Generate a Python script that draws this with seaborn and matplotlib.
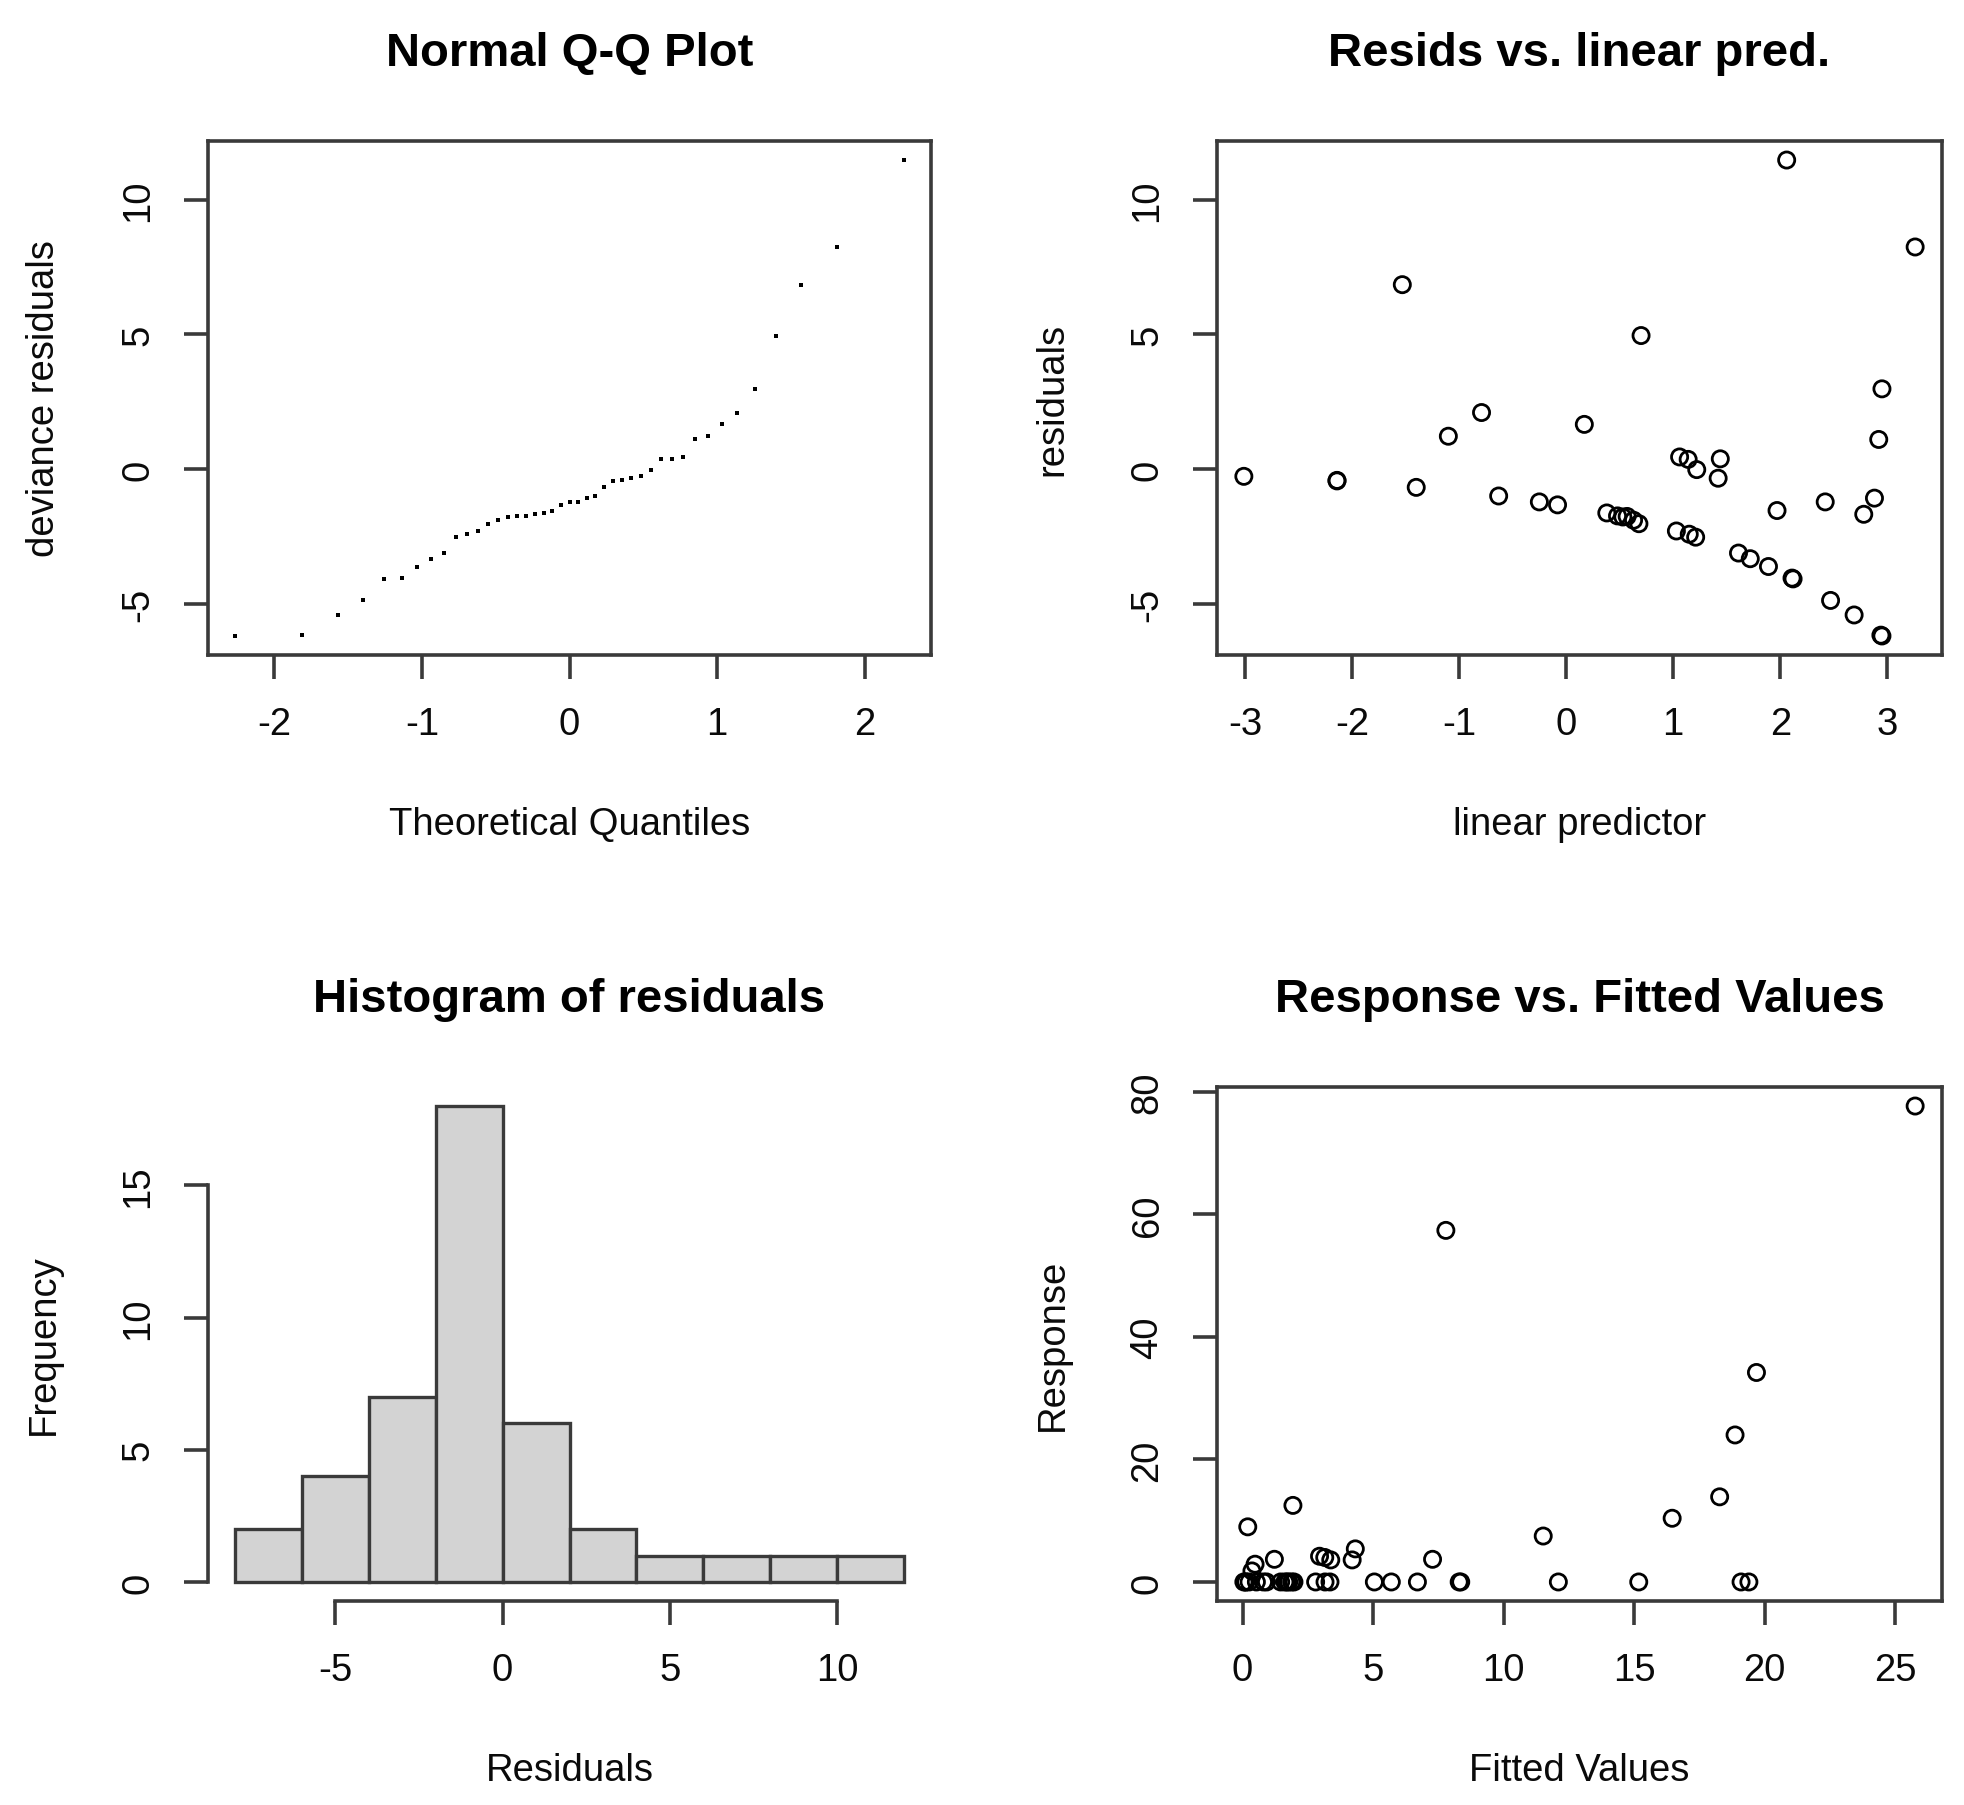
import numpy as np
import pandas as pd
import matplotlib
matplotlib.use("Agg")
import matplotlib.pyplot as plt
import seaborn as sns

# ---------------- data ----------------
lin_pred = [-3.01, -2.14, -2.14, -1.53, -1.40, -1.10, -0.79, -0.63, -0.25, -0.08,
            0.17, 0.38, 0.48, 0.53, 0.57, 0.63, 0.68, 0.70, 1.03, 1.06,
            1.14, 1.15, 1.21, 1.22, 1.42, 1.44, 1.61, 1.72, 1.89, 1.97,
            2.06, 2.11, 2.12, 2.42, 2.47, 2.69, 2.78, 2.88, 2.92, 2.94,
            2.95, 2.95, 3.26]
residuals = [-0.27, -0.42, -0.44, 6.85, -0.68, 1.22, 2.10, -1.00, -1.22, -1.33,
             1.66, -1.63, -1.74, -1.78, -1.76, -1.90, -2.03, 4.96, -2.30, 0.45,
             0.36, -2.42, -2.53, -0.02, -0.34, 0.38, -3.12, -3.33, -3.62, -1.54,
             11.48, -4.05, -4.08, -1.22, -4.88, -5.42, -1.68, -1.08, 1.10, -6.17,
             -6.20, 2.98, 8.25]
fitted = [0.05, 0.12, 0.12, 0.20, 0.25, 0.36, 0.48, 0.53, 0.80, 0.92,
          1.22, 1.46, 1.62, 1.70, 1.77, 1.88, 1.97, 1.93, 2.80, 2.95,
          3.15, 3.16, 3.35, 3.38, 4.20, 4.32, 5.05, 5.70, 6.70, 7.28,
          7.79, 8.30, 8.36, 11.52, 12.10, 15.18, 16.46, 18.28, 18.87, 19.10,
          19.40, 19.69, 25.77]
response = [0, 0, 0, 9.0, 0, 1.8, 2.9, 0, 0, 0,
            3.7, 0, 0, 0, 0, 0, 0, 12.5, 0, 4.2,
            4.0, 0, 0, 3.6, 3.6, 5.4, 0, 0, 0, 3.7,
            57.4, 0, 0, 7.5, 0, 0, 10.4, 13.9, 24.0, 0,
            0, 34.2, 77.7]
theo_quantiles = [-2.268, -1.813, -1.571, -1.396, -1.255, -1.137, -1.031, -0.937,
                  -0.850, -0.769, -0.693, -0.620, -0.552, -0.485, -0.420, -0.357,
                  -0.296, -0.236, -0.176, -0.117, -0.058, 0.000, 0.058, 0.117,
                  0.176, 0.236, 0.296, 0.357, 0.420, 0.485, 0.552, 0.620, 0.693,
                  0.769, 0.850, 0.937, 1.031, 1.137, 1.255, 1.396, 1.571, 1.813,
                  2.268]
hist_breaks = [-8, -6, -4, -2, 0, 2, 4, 6, 8, 10, 12]

qq_ticks_x = [-2, -1, 0, 1, 2]
resid_ticks_y = [-5, 0, 5, 10]
lp_ticks_x = [-3, -2, -1, 0, 1, 2, 3]
hist_ticks_x = [-5, 0, 5, 10]
hist_ticks_y = [0, 5, 10, 15]
fit_ticks_x = [0, 5, 10, 15, 20, 25]
resp_ticks_y = [0, 20, 40, 60, 80]

df = pd.DataFrame({"lp": lin_pred, "resid": residuals,
                   "fitted": fitted, "response": response})
qq = pd.DataFrame({"theo": theo_quantiles, "sample": np.sort(df["resid"].values)})

# ---------------- style ----------------
sns.set_style("white")
plt.rcParams["font.family"] = ["Liberation Sans", "DejaVu Sans"]
plt.rcParams["axes.unicode_minus"] = False

W, H = 1964, 1806
fig = plt.figure(figsize=(W / 100, H / 100), dpi=100)
fig.patch.set_facecolor("white")

LINE = "#3a3a3a"
LW = 2.6
FS = 27.5
TFS = 34
TXT = "#0a0a0a"


def r_lims(v):
    lo, hi = min(v), max(v)
    d = (hi - lo) * 0.04
    return lo - d, hi + d


def style_axis(ax, title, xlabel, ylabel, xticks, yticks, box=True):
    ax.set_facecolor("white")
    for s in ax.spines.values():
        s.set_color(LINE)
        s.set_linewidth(LW)
        s.set_visible(box)
    ax.set_xticks(xticks)
    ax.set_yticks(yticks)
    ax.set_xticklabels([str(t) for t in xticks])
    ax.set_yticklabels([str(t) for t in yticks])
    ax.tick_params(axis="both", direction="out", length=17, width=LW,
                   color=LINE, labelsize=FS, labelcolor=TXT, pad=20,
                   bottom=True, left=True)
    for lab in ax.get_yticklabels():
        lab.set_rotation(90)
        lab.set_va("center")
        lab.set_ha("right")
    ax.set_xlabel(xlabel, fontsize=FS, color=TXT)
    ax.set_ylabel(ylabel, fontsize=FS, color=TXT)
    ax.xaxis.set_label_coords(0.5, -0.329)
    ax.xaxis.label.set_va("center")
    ax.yaxis.set_label_coords(-0.227, 0.5)
    ax.yaxis.label.set_va("center")
    ax.set_title(title, fontsize=TFS, fontweight="bold", y=1.148, pad=0,
                 va="baseline", color="black")


# positions of plot regions
left1, left2 = 208 / W, 1217 / W
w1, w2 = 723 / W, 725 / W
btop, bbot = 1 - 656 / H, 1 - 1602 / H
h = 514 / H

MS = 135
MLW = 2.0

# 1) Normal Q-Q plot
ax1 = fig.add_axes([left1, btop, w1, h])
sns.scatterplot(data=qq, x="theo", y="sample", ax=ax1, marker="s", s=6,
                color="black", linewidth=0)
ax1.set_xlim(*r_lims(theo_quantiles))
ax1.set_ylim(*r_lims(residuals))
style_axis(ax1, "Normal Q-Q Plot", "Theoretical Quantiles", "deviance residuals",
           qq_ticks_x, resid_ticks_y)

# 2) Residuals vs linear predictor
ax2 = fig.add_axes([left2, btop, w2, h])
sns.scatterplot(data=df, x="lp", y="resid", ax=ax2, marker="o", s=MS,
                facecolor="none", edgecolor="black", linewidth=MLW)
ax2.set_xlim(*r_lims(lin_pred))
ax2.set_ylim(*r_lims(residuals))
style_axis(ax2, "Resids vs. linear pred.", "linear predictor", "residuals",
           lp_ticks_x, resid_ticks_y)

# 3) Histogram of residuals
ax3 = fig.add_axes([left1, bbot, w1, h])
sns.histplot(x=df["resid"], bins=hist_breaks, ax=ax3, color="#D3D3D3",
             edgecolor=LINE, linewidth=2.4, alpha=1)
counts, _ = np.histogram(residuals, bins=hist_breaks)
ax3.set_xlim(*r_lims(hist_breaks))
ax3.set_ylim(*r_lims([0, counts.max()]))
style_axis(ax3, "Histogram of residuals", "Residuals", "Frequency",
           hist_ticks_x, hist_ticks_y, box=False)
ax3.spines["left"].set_visible(True)
ax3.spines["bottom"].set_visible(True)
ax3.spines["left"].set_bounds(hist_ticks_y[0], hist_ticks_y[-1])
ax3.spines["bottom"].set_bounds(hist_ticks_x[0], hist_ticks_x[-1])

# 4) Response vs fitted values
ax4 = fig.add_axes([left2, bbot, w2, h])
sns.scatterplot(data=df, x="fitted", y="response", ax=ax4, marker="o", s=MS,
                facecolor="none", edgecolor="black", linewidth=MLW)
ax4.set_xlim(*r_lims(fitted))
ax4.set_ylim(*r_lims(response))
style_axis(ax4, "Response vs. Fitted Values", "Fitted Values", "Response",
           fit_ticks_x, resp_ticks_y)

fig.savefig("out.png", dpi=100, facecolor="white")
